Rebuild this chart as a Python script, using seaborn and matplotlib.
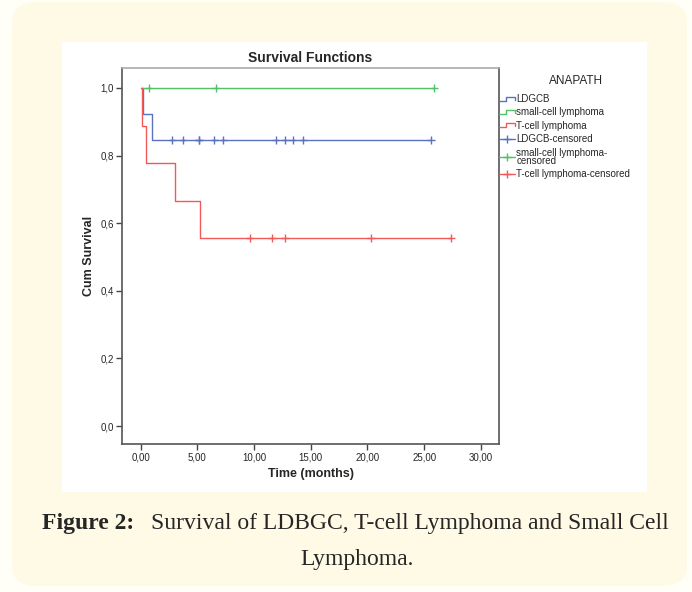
import numpy as np
import pandas as pd
import seaborn as sns
import matplotlib
import matplotlib.pyplot as plt
from matplotlib.patches import FancyBboxPatch, Rectangle
from matplotlib.lines import Line2D
from matplotlib.legend_handler import HandlerBase

# data (months)
ldgcb_events = [0.2, 1.0]
ldgcb_censored = [2.8, 3.7, 5.1, 5.15, 6.5, 7.3, 11.9, 12.7, 13.4, 14.3, 25.6]
small_events = []
small_censored = [0.7, 6.6, 25.9]
tcell_events = [0.1, 0.5, 3.0, 5.2]
tcell_censored = [9.6, 11.6, 12.7, 20.3, 27.4]

groups = ['LDGCB', 'small-cell lymphoma', 'T-cell lymphoma']
colors = ['#5b72c2', '#52c064', '#f25a5a']
x_ticks = [0, 5, 10, 15, 20, 25, 30]
y_ticks = [0.0, 0.2, 0.4, 0.6, 0.8, 1.0]


def km(events, censored):
    # Kaplan-Meier step points + censor mark positions
    times = sorted([(t, 1) for t in events] + [(t, 0) for t in censored])
    n = len(times)
    s = 1.0
    steps = [(0.0, 1.0)]
    marks = []
    for t, e in times:
        if e:
            s = s * (n - 1) / n
            steps.append((t, s))
        else:
            marks.append((t, s))
        n -= 1
    steps.append((times[-1][0], s))
    return steps, marks


curve_rows, mark_rows = [], []
for g, ev, ce in zip(groups, [ldgcb_events, small_events, tcell_events],
                     [ldgcb_censored, small_censored, tcell_censored]):
    steps, marks = km(ev, ce)
    curve_rows += [(g, t, s) for t, s in steps]
    mark_rows += [(g, t, s) for t, s in marks]
curves = pd.DataFrame(curve_rows, columns=['group', 'time', 'surv'])
censors = pd.DataFrame(mark_rows, columns=['group', 'time', 'surv'])

sns.set_style('white')
plt.rcParams['font.family'] = ['Liberation Sans', 'DejaVu Sans']

fig = plt.figure(figsize=(6.92, 5.92), dpi=100, facecolor='#fffef7')
W, H = 692, 592
fig.patches.append(FancyBboxPatch((12 / W, 6 / H), 675 / W, 584 / H,
                                  boxstyle='round,pad=0,rounding_size=0.035',
                                  transform=fig.transFigure, facecolor='#fffae6',
                                  edgecolor='none', zorder=-2))
fig.patches.append(Rectangle((62 / W, 1 - 492 / H), 585 / W, 450 / H,
                             transform=fig.transFigure, facecolor='white',
                             edgecolor='none', zorder=-1))

ax = fig.add_axes([122 / W, 1 - 444 / H, 377 / W, 376 / H])
pal = dict(zip(groups, colors))
sns.lineplot(data=curves, x='time', y='surv', hue='group', palette=pal,
             estimator=None, sort=False, drawstyle='steps-post', linewidth=1.0,
             legend=False, ax=ax)
sns.scatterplot(data=censors, x='time', y='surv', hue='group', palette=pal,
                marker='+', s=30, linewidth=1.0, legend=False, ax=ax)

ax.set_xlim(-1.65, 31.6)
ax.set_ylim(-0.053, 1.059)
ax.set_xticks(x_ticks)
ax.set_xticklabels([f'{v:.2f}'.replace('.', ',') for v in x_ticks], fontsize=7)
ax.set_yticks(y_ticks)
ax.set_yticklabels([f'{v:.1f}'.replace('.', ',') for v in y_ticks], fontsize=7)
ax.tick_params(direction='out', length=4, width=1, color='#444444', pad=2,
               bottom=True, left=True)
for sp in ax.spines.values():
    sp.set_color('#555555')
    sp.set_linewidth(1.2)
ax.spines['top'].set_color('#aaaaaa')
ax.set_xlabel('Time (months)', fontsize=9, fontweight='bold', labelpad=4)
ax.set_ylabel('Cum Survival', fontsize=9, fontweight='bold', labelpad=4)
ax.set_title('Survival Functions', fontsize=10, fontweight='bold', pad=4)


class StepHandler(HandlerBase):
    def create_artists(self, legend, orig, xd, yd, width, height, fontsize, trans):
        xs = np.array([0, 0.45, 0.45, 1.0, 1.0]) * width - xd
        ys = np.array([0.2, 0.2, 0.8, 0.8, 0.35]) * height - yd
        ln = Line2D(xs, ys, color=orig.get_color(), lw=1.0)
        ln.set_transform(trans)
        return [ln]


handles = [Line2D([], [], color=c) for c in colors]
handles += [Line2D([], [], color=c, marker='+', markersize=6, lw=1.0) for c in colors]
labels = groups + ['LDGCB-censored', 'small-cell lymphoma-\ncensored',
                   'T-cell lymphoma-censored']
leg = fig.legend(handles, labels, title='ANAPATH', loc='upper left',
                 bbox_to_anchor=(499 / W, 1 - 75 / H), frameon=False,
                 fontsize=7, title_fontsize=8.5, handlelength=1.6,
                 handletextpad=0.2, labelspacing=0.35, borderaxespad=0,
                 borderpad=0,
                 handler_map={h: StepHandler() for h in handles[:3]})
leg._legend_box.align = 'left'
leg._legend_box.sep = 5
leg.get_title().set_position((50, 0))
leg.get_texts()[4].set_linespacing(0.8)

# caption
cap = fig.text(42 / W, 1 - 523 / H, 'Figure 2:', family='Liberation Serif',
               fontsize=17, fontweight='bold', va='center', ha='left')
body = fig.text(151 / W, 1 - 523 / H, 'Survival of LDBGC, T-cell Lymphoma and Small Cell',
                family='Liberation Serif', fontsize=17, va='center', ha='left')
fig.text(357 / W, 1 - 560 / H, 'Lymphoma.', family='Liberation Serif',
         fontsize=17, va='center', ha='center')

fig.savefig('out.png', dpi=100, facecolor=fig.get_facecolor())
